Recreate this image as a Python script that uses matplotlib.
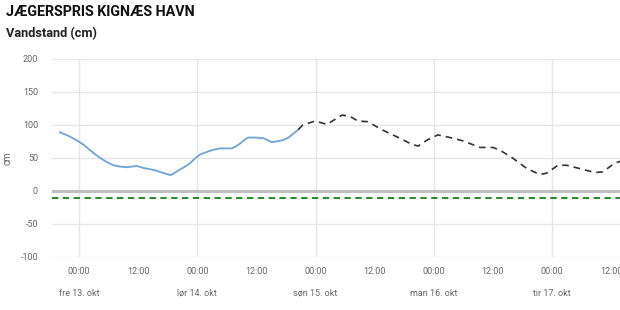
import matplotlib
matplotlib.use("Agg")
import matplotlib.pyplot as plt

plt.rcParams['font.family'] = ['Roboto', 'DejaVu Sans']

# timer efter fre 13. okt 00:00
obs_hours = [-3.9, -2.0, -0.1, 1.1, 2.2, 3.2, 4.3, 5.6, 7.0, 8.3, 9.7, 10.7, 11.7, 13.0,
             14.4, 15.6, 16.8, 17.7, 18.6, 19.3, 20.1, 21.3, 22.5, 23.5, 24.5, 25.5,
             26.6, 27.6, 28.6, 29.8, 31.0, 31.9, 32.7, 33.5, 34.3, 35.8, 37.4, 38.3,
             39.1, 40.0, 40.8, 41.7, 42.5, 43.5, 44.5]
obs_level = [89, 83, 75, 69, 62, 56, 50, 44, 39, 37, 36, 37, 38, 35,
             33, 31, 28, 26, 24, 27, 31, 36, 42, 49, 55, 58,
             61, 63, 64.5, 64.5, 64.5, 68, 72, 77, 81, 81, 80, 77,
             74, 75, 76, 78, 81, 87, 93]

fc_hours = [44.5, 45.4, 47.9, 50.3, 53.4, 55.0, 56.6, 58.6, 61.7, 65.1, 67.2, 68.8, 70.6,
            72.8, 75.3, 77.9, 81.4, 84.0, 85.4, 88.0, 90.9, 93.5, 94.9, 97.2, 99.0,
            101.6, 104.7, 106.3, 108.7, 109.8]
fc_level = [93, 100, 106, 101, 115, 113, 106, 105, 92, 80, 72, 68, 77,
            85, 81, 76, 66, 66, 62, 50, 34, 25, 27, 39, 39,
            34, 28, 29, 42, 45]

warn_level = -10
tick_hours = [0, 12, 24, 36, 48, 60, 72, 84, 96, 108]
tick_labels = ["00:00", "12:00"] * 5
day_hours = [0, 24, 48, 72, 96]
day_labels = ["fre 13. okt", "lør 14. okt", "søn 15. okt", "man 16. okt", "tir 17. okt"]

fig = plt.figure(figsize=(6.2, 3.1), dpi=100)
ax = fig.add_axes([52 / 620, 1 - 257 / 310, 1 - 52 / 620, 198 / 310])

for y in [-100, -50, 50, 100, 150, 200]:
    ax.axhline(y, color="#e6e6e6", lw=1, zorder=0)
for d in day_hours:
    ax.axvline(d, color="#e6e6e6", lw=1, zorder=0)
ax.axhline(0, color="#c0c0c0", lw=2.2, zorder=1)
ax.axhline(warn_level, color="#128212", lw=1.3, ls=(0, (3.5, 2.5)), zorder=2)

ax.plot(obs_hours, obs_level, color="#6fa3d8", lw=1.3, zorder=3)
ax.plot(fc_hours, fc_level, color="#333333", lw=1.2, ls=(0, (4, 3)), zorder=3)

ax.set_xlim(-5.5, 109.8)
ax.set_ylim(-100, 200)
ax.set_yticks([-100, -50, 0, 50, 100, 150, 200])
ax.set_yticklabels(["-100", "-50", "0", "50", "100", "150", "200"])
ax.set_xticks(tick_hours)
ax.set_xticklabels(tick_labels)
ax.tick_params(length=0, labelsize=6.5, colors="#666666")
ax.tick_params(axis="y", pad=10)
ax.tick_params(axis="x", pad=7)
for s in ax.spines.values():
    s.set_visible(False)
ax.set_ylabel("cm", fontsize=7, color="#666666", labelpad=6)

for h, lab in zip(day_hours, day_labels):
    ax.text(h, -36 / 198, lab, transform=ax.get_xaxis_transform(), ha="center",
            va="center", fontsize=6.5, color="#666666")

fig.text(6 / 620, 1 - 12 / 310, "JÆGERSPRIS KIGNÆS HAVN", fontsize=10.3, fontweight="bold",
         va="center", ha="left", color="#111111")
fig.text(6 / 620, 1 - 34 / 310, "Vandstand (cm)", fontsize=9.2, fontweight="bold",
         va="center", ha="left", color="#222222")

fig.savefig("out.png", dpi=100)
